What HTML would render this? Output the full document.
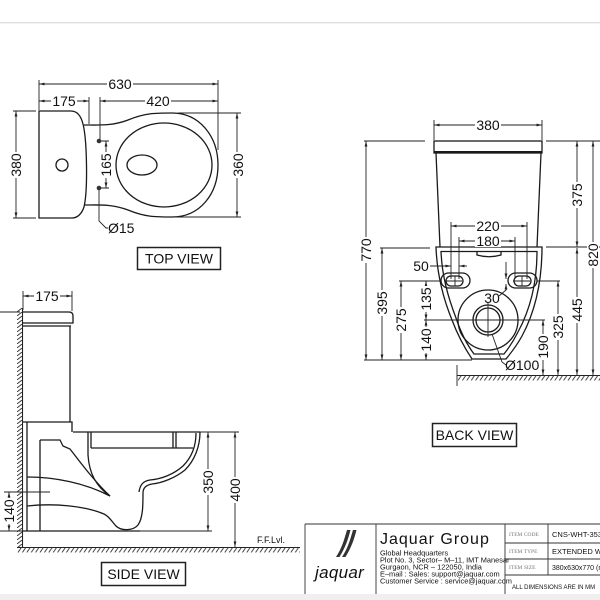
<!DOCTYPE html>
<html><head><meta charset="utf-8">
<style>
html,body{margin:0;padding:0;background:#fff;}
svg{display:block;}
text{font-family:"Liberation Sans",Arial,sans-serif;fill:#111;}
.d{font-size:14px;text-anchor:middle;}
.lb{font-size:14px;text-anchor:middle;fill:#111;}
</style></head><body>
<svg width="600" height="600" viewBox="0 0 600 600" xmlns="http://www.w3.org/2000/svg">
<defs>
<marker id="a" markerWidth="6" markerHeight="4" refX="5.5" refY="2" orient="auto-start-reverse" markerUnits="userSpaceOnUse"><path d="M0,0.6 L5.5,2 L0,3.4 Z" fill="#222"/></marker>
<pattern id="hf" x="0" y="547.5" width="4.4" height="5" patternUnits="userSpaceOnUse"><path d="M0.4,5 L3.6,0.3" stroke="#333" stroke-width="0.9" fill="none"/></pattern>
<pattern id="hb" x="0" y="375.5" width="4.4" height="5" patternUnits="userSpaceOnUse"><path d="M0.4,5 L3.6,0.3" stroke="#333" stroke-width="0.9" fill="none"/></pattern>
<pattern id="hw" x="17" y="0" width="6" height="4" patternUnits="userSpaceOnUse"><path d="M0,4 L5,0" stroke="#333" stroke-width="0.9" fill="none"/></pattern>
</defs>

<rect x="0" y="0" width="600" height="600" fill="#fff"/>
<rect x="0" y="22" width="600" height="1.3" fill="#dcdcdc"/>

<!-- ================= TOP VIEW ================= -->
<g stroke="#1a1a1a" stroke-width="1.3" fill="none">
<path d="M39,111 L71,111 C77,111 81,116 83,124 C87,140 88,190 84,207 C82,213 78,218 72,218 L39,218 Z"/>
<circle cx="62" cy="165" r="6"/>
<path d="M84,125 C100,125 112,126 128,120 C145,113 155,113 172,113 C200,113 218,137 218,165 C218,194 200,217 172,217 C155,217 145,217 128,210 C112,204 100,205 84,205"/>
<ellipse cx="164" cy="165" rx="48" ry="42"/>
<ellipse cx="142" cy="165" rx="15" ry="10"/>
</g>
<circle cx="99" cy="141" r="2.3" fill="#333"/>
<circle cx="99" cy="188" r="2.3" fill="#333"/>
<g stroke="#222" stroke-width="0.9" fill="none">
<path d="M39,80 V110 M218,80 V150 M89,97 V124 M100,97 V139 M13,111 H36 M13,218 H36 M178,113 H241 M175,217 H241 M101,141 H109 M101,188 H109"/>
<path d="M39,84 H218" marker-start="url(#a)" marker-end="url(#a)"/>
<path d="M39,101 H89" marker-start="url(#a)" marker-end="url(#a)"/>
<path d="M100,101 H218" marker-start="url(#a)" marker-end="url(#a)"/>
<path d="M16,111 V218" marker-start="url(#a)" marker-end="url(#a)"/>
<path d="M237,113 V217" marker-start="url(#a)" marker-end="url(#a)"/>
<path d="M106,141 V188" marker-start="url(#a)" marker-end="url(#a)"/>
<path d="M99,190 V221 L106,228 H108"/>
</g>
<rect x="107" y="78" width="26" height="12" fill="#fff"/><text class="d" x="120" y="89">630</text>
<rect x="51" y="95" width="26" height="12" fill="#fff"/><text class="d" x="64" y="106">175</text>
<rect x="145" y="95" width="26" height="12" fill="#fff"/><text class="d" x="158" y="106">420</text>
<g transform="translate(16,165) rotate(-90)"><rect x="-13" y="-6" width="26" height="12" fill="#fff"/><text class="d" x="0" y="5">380</text></g>
<g transform="translate(238,165) rotate(-90)"><rect x="-13" y="-6" width="26" height="12" fill="#fff"/><text class="d" x="0" y="5">360</text></g>
<g transform="translate(106,165) rotate(-90)"><rect x="-13" y="-6" width="26" height="12" fill="#fff"/><text class="d" x="0" y="5">165</text></g>
<text x="108" y="233" font-size="14">Ø15</text>
<rect x="137.5" y="247.5" width="83" height="22" fill="none" stroke="#222" stroke-width="1.5"/>
<text class="lb" x="179" y="263.5">TOP VIEW</text>

<!-- ================= BACK VIEW ================= -->
<g stroke="#1a1a1a" stroke-width="1.3" fill="none">
<rect x="434" y="141" width="108" height="12"/>
<path d="M434,152 H542" stroke-width="2"/>
<path d="M436,153 L440,247 M541,153 L537,247"/>
<path d="M436,247 H542 C542,280 536,310 522,336 C516,347 510,354 506,359 H472 C466,350 458,336 452,320 C443,298 437,275 436,247 Z"/>
<path d="M441,251.5 H537 C537,281 531,308 518,332 C513,342 508,349 504,354 H474 C468,346 461,333 456,318 C448,297 442,276 441,251.5 Z"/>
<path d="M477,251.5 V255 Q489,258.5 501,255 V251.5"/>
<rect x="441" y="273" width="29" height="15" rx="7.5"/>
<rect x="446" y="276" width="17" height="10" rx="5"/>
<rect x="508" y="273" width="29" height="15" rx="7.5"/>
<rect x="514" y="276" width="17" height="10" rx="5"/>
<circle cx="488" cy="320" r="30"/>
<circle cx="488" cy="320" r="15"/>
<circle cx="488" cy="320" r="12"/>
</g>
<g stroke="#222" stroke-width="0.9" fill="none">
<path d="M446,281 H462 M455,276 V286 M513,281 H530 M522,276 V286"/>
<path d="M434,120 V140 M542,120 V140"/>
<path d="M434,125 H542" marker-start="url(#a)" marker-end="url(#a)"/>
<path d="M364,141 H425 M546,141 H600 M380,248 H430 M546,247 H600 M399,281 H441 M537,281 H560 M424,320 H545 M364,360 H472"/>
<path d="M488,303 V337"/>
<path d="M366,141 V360" marker-start="url(#a)" marker-end="url(#a)"/>
<path d="M577,141 V247" marker-start="url(#a)" marker-end="url(#a)"/>
<path d="M593,141 V375" marker-start="url(#a)" marker-end="url(#a)"/>
<path d="M577,248 V375" marker-start="url(#a)" marker-end="url(#a)"/>
<path d="M382,248 V360" marker-start="url(#a)" marker-end="url(#a)"/>
<path d="M401,281 V360" marker-start="url(#a)" marker-end="url(#a)"/>
<path d="M426,281 V320" marker-start="url(#a)" marker-end="url(#a)"/>
<path d="M426,320 V360" marker-start="url(#a)" marker-end="url(#a)"/>
<path d="M543,320 V375" marker-start="url(#a)" marker-end="url(#a)"/>
<path d="M558,281 V375" marker-start="url(#a)" marker-end="url(#a)"/>
<path d="M451,222 V279 M527,222 V279 M459,237 V279 M515,237 V279"/>
<path d="M451,226 H527" marker-start="url(#a)" marker-end="url(#a)"/>
<path d="M459,241 H515" marker-start="url(#a)" marker-end="url(#a)"/>
<path d="M430,266 H451" marker-end="url(#a)"/>
<path d="M467,266 H459" marker-end="url(#a)"/>
<path d="M506,262 V279" marker-end="url(#a)"/>
<path d="M499,296 L506,290 V284" marker-end="url(#a)"/>
<path d="M492,334 L502,362 L506,365"/>
<path d="M457,365 V386"/>
</g>
<path d="M457,375.5 H600" stroke="#222" stroke-width="1.1"/>
<rect x="458" y="375.5" width="142" height="5" fill="url(#hb)"/>
<rect x="475" y="119" width="26" height="12" fill="#fff"/><text class="d" x="488" y="130">380</text>
<rect x="475" y="220" width="26" height="12" fill="#fff"/><text class="d" x="488" y="231">220</text>
<rect x="475" y="235" width="26" height="12" fill="#fff"/><text class="d" x="488" y="246">180</text>
<rect x="412" y="260" width="18" height="12" fill="#fff"/><text class="d" x="421" y="271">50</text>
<text class="d" x="492" y="303">30</text>
<g transform="translate(366,250) rotate(-90)"><rect x="-13" y="-6" width="26" height="12" fill="#fff"/><text class="d" x="0" y="5">770</text></g>
<g transform="translate(577,195) rotate(-90)"><rect x="-13" y="-6" width="26" height="12" fill="#fff"/><text class="d" x="0" y="5">375</text></g>
<g transform="translate(593,255) rotate(-90)"><rect x="-13" y="-6" width="26" height="12" fill="#fff"/><text class="d" x="0" y="5">820</text></g>
<g transform="translate(382,303) rotate(-90)"><rect x="-13" y="-6" width="26" height="12" fill="#fff"/><text class="d" x="0" y="5">395</text></g>
<g transform="translate(401,320) rotate(-90)"><rect x="-13" y="-6" width="26" height="12" fill="#fff"/><text class="d" x="0" y="5">275</text></g>
<g transform="translate(426,299) rotate(-90)"><rect x="-13" y="-6" width="26" height="12" fill="#fff"/><text class="d" x="0" y="5">135</text></g>
<g transform="translate(426,340) rotate(-90)"><rect x="-13" y="-6" width="26" height="12" fill="#fff"/><text class="d" x="0" y="5">140</text></g>
<g transform="translate(543,347) rotate(-90)"><rect x="-13" y="-6" width="26" height="12" fill="#fff"/><text class="d" x="0" y="5">190</text></g>
<g transform="translate(558,327) rotate(-90)"><rect x="-13" y="-6" width="26" height="12" fill="#fff"/><text class="d" x="0" y="5">325</text></g>
<g transform="translate(577,310) rotate(-90)"><rect x="-13" y="-6" width="26" height="12" fill="#fff"/><text class="d" x="0" y="5">445</text></g>
<text x="505" y="370" font-size="14">Ø100</text>
<rect x="432.5" y="423.5" width="84" height="23" fill="none" stroke="#222" stroke-width="1.5"/>
<text class="lb" x="474.5" y="440">BACK VIEW</text>

<!-- ================= SIDE VIEW ================= -->
<rect x="17" y="308" width="5" height="239" fill="url(#hw)"/>
<path d="M22.5,308 V547" stroke="#222" stroke-width="1.1"/>
<path d="M17,547.5 H300" stroke="#222" stroke-width="1.1"/>
<rect x="17" y="547.5" width="283" height="5" fill="url(#hf)"/>
<g stroke="#1a1a1a" stroke-width="1.3" fill="none">
<path d="M23,312 H69 Q73,312 73,316 V323 H23"/>
<path d="M23,326 H71"/>
<path d="M70,326 V422 M23,422 H72 V432 M73,432 H200"/>
<path d="M91,448 H193 M91,432 V448 M173,432 V448 M176,432 V448"/>
<path d="M88,432 V455 C89,472 95,486 110,496"/>
<path d="M40,440 H60 L63,446 L70,449 C80,462 95,482 110,496"/>
<path d="M27,477 C55,477 85,483 110,496"/>
<path d="M27,506 C55,503 85,506 104,514 C110,517 112,522 116,526 C121,531 133,531 138,525 C143,518 143,505 143,493 C143,488 146,485 152,484 C162,483 175,478 185,470 C195,460 200,446 200,432"/>
<path d="M196,433 C196,447 191,458 183,466 C174,474 162,479 150,480 C143,481 140,485 139,492"/>
<path d="M27,422 V531 M40,440 V531 M23,531 H140"/>
</g>
<g stroke="#222" stroke-width="0.9" fill="none">
<path d="M0,312 H20"/>
<path d="M23,291 V310 M72,291 V311"/>
<path d="M23,296 H72" marker-start="url(#a)" marker-end="url(#a)"/>
<path d="M200,432 H239 M140,531 H212 M4,492 H50 M0,531 H23"/>
<path d="M208,432 V531" marker-start="url(#a)" marker-end="url(#a)"/>
<path d="M235,432 V547" marker-start="url(#a)" marker-end="url(#a)"/>
<path d="M9,492 V531" marker-start="url(#a)" marker-end="url(#a)"/>
</g>
<rect x="34" y="290" width="26" height="12" fill="#fff"/><text class="d" x="47" y="301">175</text>
<g transform="translate(208,482) rotate(-90)"><rect x="-13" y="-6" width="26" height="12" fill="#fff"/><text class="d" x="0" y="5">350</text></g>
<g transform="translate(235,490) rotate(-90)"><rect x="-13" y="-6" width="26" height="12" fill="#fff"/><text class="d" x="0" y="5">400</text></g>
<g transform="translate(9,511) rotate(-90)"><rect x="-13" y="-6" width="26" height="12" fill="#fff"/><text class="d" x="0" y="5">140</text></g>
<text x="257" y="543" font-size="9">F.F.Lvl.</text>
<rect x="101.5" y="562.5" width="84" height="23" fill="none" stroke="#222" stroke-width="1.5"/>
<text class="lb" x="143.5" y="579">SIDE VIEW</text>

<!-- ================= TITLE BLOCK ================= -->
<g stroke="#333" stroke-width="0.9" fill="none">
<path d="M305,524 H600 M305,524 V594 M376,524 V594 M505,524 V594 M548,524 V575 M505,543 H600 M505,559 H600 M505,575 H600"/>
</g>
<path d="M347,530 C344,540 342,548 336,557 L339.5,557 C345,548 348,540 350.5,530 Z" fill="#333"/>
<path d="M353,530 C350,540 348,548 342,557 L345.5,557 C351,548 354,540 356.5,530 Z" fill="#333"/>
<text x="315" y="578" font-size="17" font-style="italic" fill="#333" letter-spacing="0.3">jaquar</text>
<text x="380" y="544" font-size="16" fill="#333" letter-spacing="1">Jaquar Group</text>
<g font-size="7.4" fill="#222">
<text x="380" y="555.5">Global Headquarters</text>
<text x="380" y="562.5">Plot No. 3, Sector– M–11, IMT Manesar</text>
<text x="380" y="569.5">Gurgaon, NCR – 122050, India</text>
<text x="380" y="576.5">E–mail : Sales: support@jaquar.com</text>
<text x="380" y="583.5">Customer Service : service@jaquar.com</text>
</g>
<text x="509" y="536" font-size="5.5" style="font-family:'Liberation Serif',serif;fill:#777">ITEM CODE</text>
<text x="509" y="553" font-size="5.5" style="font-family:'Liberation Serif',serif;fill:#777">ITEM TYPE</text>
<text x="509" y="569" font-size="5.5" style="font-family:'Liberation Serif',serif;fill:#777">ITEM SIZE</text>
<text x="552" y="537" font-size="7.5" fill="#222">CNS-WHT-3535</text>
<text x="552" y="554" font-size="7.5" fill="#222">EXTENDED WASHDOWN</text>
<text x="552" y="570" font-size="7" fill="#222">380x630x770 (mm)</text>
<text x="512" y="589" font-size="6" fill="#444">ALL DIMENSIONS ARE IN MM</text>

<rect x="0" y="594" width="600" height="6" fill="#efefef"/>
</svg>
</body></html>
